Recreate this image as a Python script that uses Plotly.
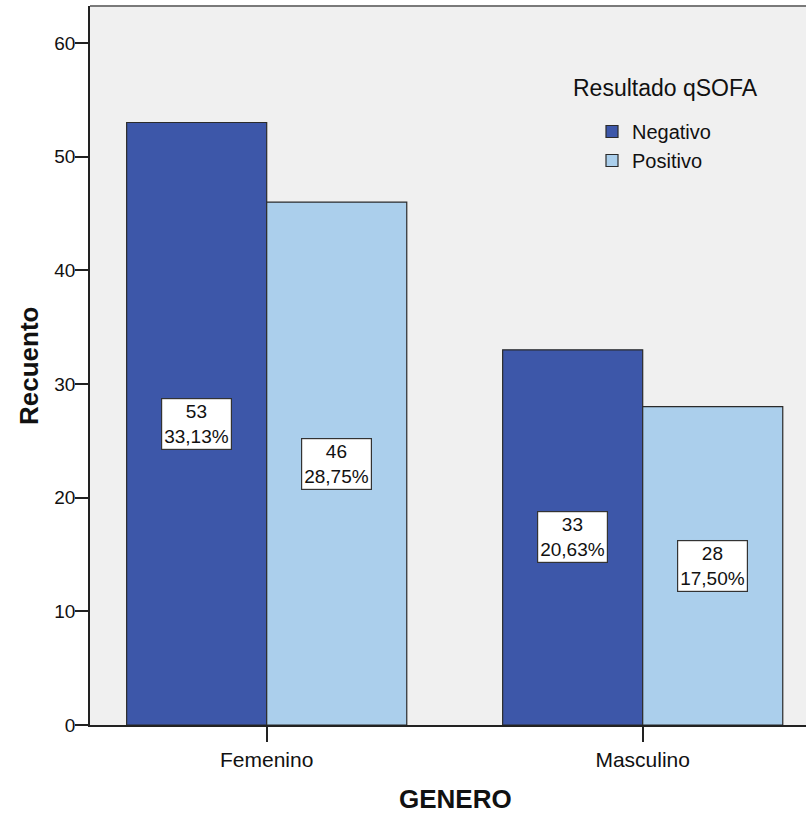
import plotly.graph_objects as go
from decimal import Decimal, ROUND_HALF_UP

# Counts of qSOFA result by gender
categories = ["Femenino", "Masculino"]
negativo = [53, 33]
positivo = [46, 28]
series_names = ["Negativo", "Positivo"]
y_ticks = [0, 10, 20, 30, 40, 50, 60]

colors = ["#3D57A9", "#ABCFEC"]
total = sum(negativo) + sum(positivo)


def pct_label(v):
    p = (Decimal(v) * 100 / Decimal(total)).quantize(Decimal("0.01"), rounding=ROUND_HALF_UP)
    return f"{p}%".replace(".", ",")


W, H = 806, 814
ML, MR, MT, MB = 90, 0, 6, 89
plot_w = W - ML - MR
plot_h = H - MT - MB
cat_px = 376.0
first_px = 176.7
x0 = -first_px / cat_px
x1 = (plot_w - first_px) / cat_px


def px_x(px):
    return (px - ML) / plot_w


def px_y(py):
    return 1 - (py - MT) / plot_h


font_family = "Liberation Sans, Arial, sans-serif"

fig = go.Figure()
for name, vals, col in zip(series_names, [negativo, positivo], colors):
    fig.add_trace(go.Bar(
        x=categories, y=vals, name=name,
        marker=dict(color=col, line=dict(color="#2b2b2b", width=1.2)),
    ))

# Value boxes centred on each bar
bar_px = cat_px * (1 - 0.255) / 2
for si, vals in enumerate([negativo, positivo]):
    shift = (-0.5 if si == 0 else 0.5) * bar_px
    for cat, v in zip(categories, vals):
        fig.add_annotation(
            x=cat, y=v / 2, xref="x", yref="y", xshift=shift,
            text=f"{v}<br>{pct_label(v)}", showarrow=False,
            font=dict(family=font_family, size=19, color="#111"),
            bgcolor="white", bordercolor="#333", borderwidth=1.2, borderpad=2,
            align="center",
        )

# Legend title
fig.add_annotation(
    x=px_x(571), y=px_y(88), xref="paper", yref="paper",
    text="Resultado qSOFA", showarrow=False, xanchor="left", yanchor="middle",
    font=dict(family=font_family, size=23, color="#111"),
)

# Axis titles
fig.add_annotation(
    x=px_x(29), y=px_y(366), xref="paper", yref="paper", text="<b>Recuento</b>",
    showarrow=False, textangle=-90, xanchor="center", yanchor="middle",
    font=dict(family=font_family, size=26, color="#111"),
)
fig.add_annotation(
    x=px_x(455), y=px_y(799), xref="paper", yref="paper",
    text="<b>GENERO</b>", showarrow=False, xanchor="center", yanchor="middle",
    font=dict(family=font_family, size=26, color="#111"),
)

# Thin frame line along the top of the plot area
fig.add_shape(type="line", xref="paper", yref="paper", x0=0, x1=1, y0=1, y1=1,
              line=dict(color="#7a7a7a", width=2))

fig.update_layout(
    width=W, height=H,
    margin=dict(l=ML, r=MR, t=MT, b=MB),
    paper_bgcolor="white", plot_bgcolor="#F0F0F0",
    barmode="group", bargap=0.255, bargroupgap=0,
    font=dict(family=font_family, size=19, color="#111"),
    showlegend=True,
    legend=dict(
        x=px_x(592), y=px_y(112), xanchor="left", yanchor="top",
        bgcolor="rgba(0,0,0,0)", font=dict(family=font_family, size=20, color="#111"),
        tracegroupgap=0, itemwidth=30,
    ),
)
fig.update_xaxes(
    range=[x0, x1], showgrid=False, showline=True, linecolor="#222", linewidth=1.5,
    ticks="outside", ticklen=15, tickcolor="#222", tickwidth=1.5,
    tickfont=dict(family=font_family, size=21, color="#111"), zeroline=False,
)
fig.update_yaxes(
    range=[0, 63.25], tickvals=y_ticks, showgrid=False, showline=True, linecolor="#222",
    linewidth=1.5, ticks="outside", ticklen=13, tickcolor="#222", tickwidth=1.5,
    ticklabelstandoff=-4,
    tickfont=dict(family=font_family, size=19, color="#111"), zeroline=False,
)

fig.write_html("out.html")
